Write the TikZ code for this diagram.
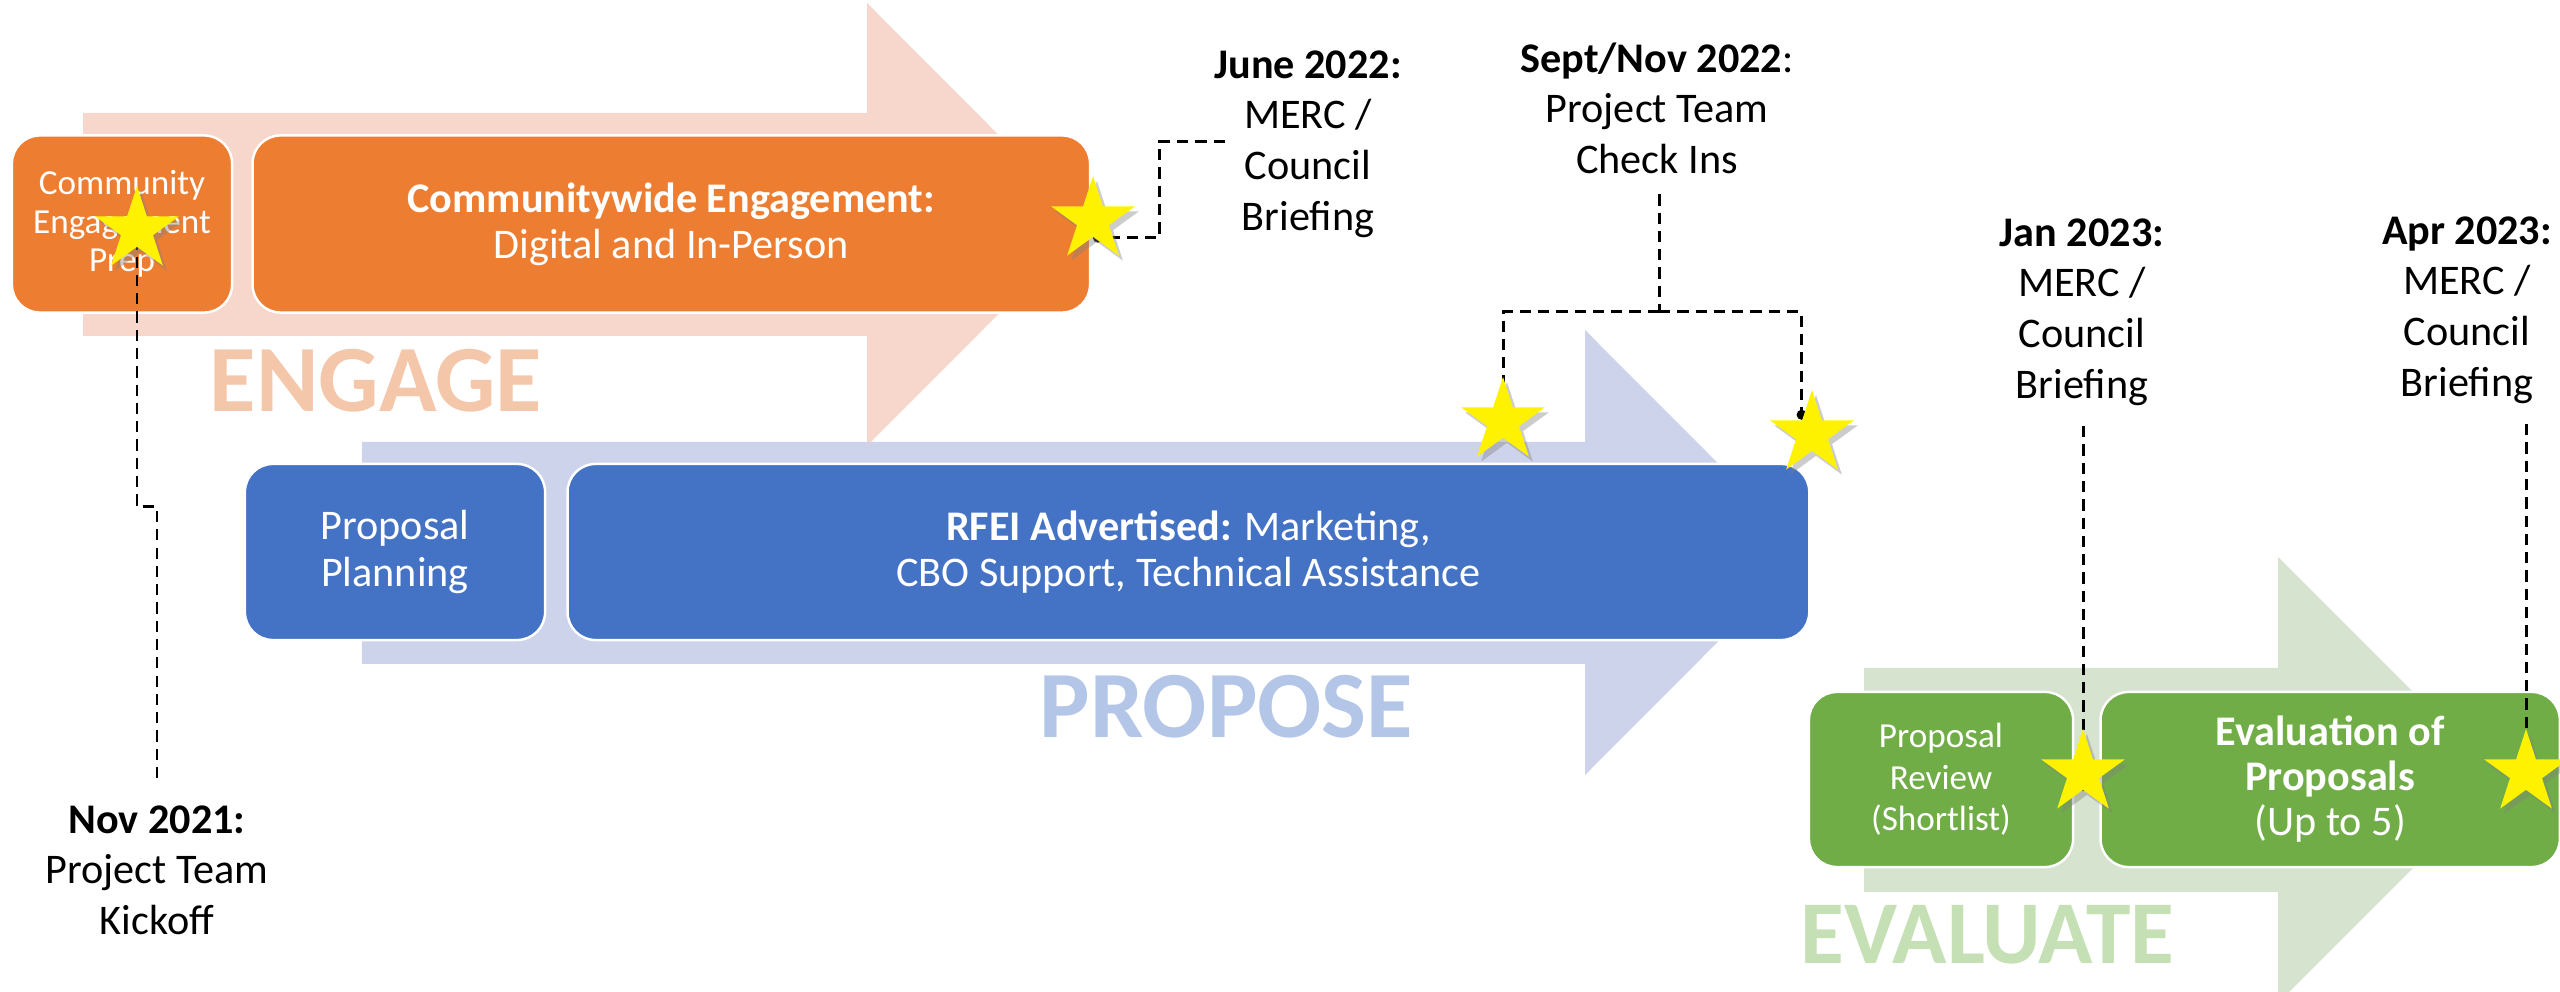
\documentclass[tikz,border=0pt]{standalone}
\usepackage{fontspec}
\setmainfont{Carlito}
\usepackage{tikz}
\usetikzlibrary{arrows,arrows.meta,positioning,shapes.geometric,shadows,backgrounds}

\definecolor{engbox}{HTML}{ED7D31}
\definecolor{engarrow}{HTML}{F7D6CC}
\definecolor{engword}{HTML}{F5C7AA}
\definecolor{probox}{HTML}{4472C4}
\definecolor{proarrow}{HTML}{CDD3EA}
\definecolor{proword}{HTML}{B4C6E7}
\definecolor{evabox}{HTML}{70AD47}
\definecolor{evaarrow}{HTML}{D6E3CF}
\definecolor{evaword}{HTML}{C5E0B4}

\begin{document}
\begin{tikzpicture}[x=0.01cm,y=-0.01cm,>={Circle[length=2.8pt]},
	box/.style={rectangle,rounded corners=0.28cm,draw=white,line width=0.7pt,text=white,align=center,inner sep=0pt,minimum height=1.77cm,font=\fontsize{12}{13.1}\selectfont},
	small box/.style={box,font=\fontsize{10}{11}\selectfont},
	stage/.style={anchor=base west,inner sep=0pt,font=\fontsize{27}{27}\selectfont\bfseries},
	date/.style={align=center,inner sep=0.2cm,font=\fontsize{12}{14.4}\selectfont},
	conn/.style={line width=0.85pt,dash pattern=on 3.2pt off 2pt},
	mstar/.style={star,star points=5,star point ratio=2.618,minimum size=0.88cm,inner sep=0pt,fill=yellow,
		drop shadow={shadow xshift=0.04cm,shadow yshift=-0.05cm,opacity=0.4}}]
	
	\useasboundingbox (0,0) rectangle (2560,992);
	
	\begin{pgfonlayer}{background}
	\fill[engarrow] (83,113) -- (867,113) -- (867,3) -- (1088,224.5) -- (867,446) -- (867,336) -- (83,336) -- cycle;
	\fill[proarrow] (362,442) -- (1585,442) -- (1585,330) -- (1807,552.5) -- (1585,775) -- (1585,664) -- (362,664) -- cycle;
	\fill[evaarrow] (1864,668) -- (2278,668) -- (2278,557) -- (2501,780) -- (2278,1003) -- (2278,892) -- (1864,892) -- cycle;
	
	\node[stage,text=engword] (engw) at (209,412) {ENGAGE};
	\node[stage,text=proword] (prow) at (1039,738) {PROPOSE};
	\node[stage,text=evaword,font=\fontsize{25.5}{25.5}\selectfont\bfseries] (evaw) at (1800,964) {EVALUATE};
	
	\node[small box,fill=engbox,minimum width=2.2cm] (prep) at (122,224) {Community\\Engagement\\Prep};
	\node[box,fill=engbox,minimum width=8.37cm] (cwe) [right=0.18cm of prep] {\textbf{Communitywide Engagement:}\\Digital and In-Person};
	\node[box,fill=probox,minimum width=3cm,minimum height=1.76cm] (plan) at (395,552) {Proposal\\Planning};
	\node[box,fill=probox,minimum width=12.41cm,minimum height=1.76cm] (rfei) [right=0.2cm of plan] {\textbf{RFEI Advertised:} Marketing,\\CBO Support, Technical Assistance};
	\node[small box,fill=evabox,minimum width=2.64cm,minimum height=1.75cm,font=\fontsize{10}{11.8}\selectfont] (review) at (1941,779.5) {Proposal\\Review\\(Shortlist)};
	\node[box,fill=evabox,minimum width=4.59cm,minimum height=1.75cm,font=\fontsize{12}{12.8}\selectfont] (evalp) [right=0.25cm of review] {\textbf{Evaluation of}\\\textbf{Proposals}\\(Up to 5)};
	\end{pgfonlayer}
	
	\node[mstar] (st1) at (137,230) {};
	\node[mstar] (st2) at (1093,220) {};
	\node[mstar] (st3) at (1503,421) {};
	\node[mstar] (st4) at (1812,434) {};
	\node[mstar] (st5) at (2083,773) {};
	\node[mstar] (st6) at (2526,773) {};
	
	\node[date] (nov) at (157,870) {\textbf{Nov 2021:}\\Project Team\\Kickoff};
	\node[date] (june) at (1308,144) {\textbf{June 2022:}\\MERC /\\Council\\Briefing};
	\node[date] (sept) at (1657,108) {\textbf{Sept/Nov 2022}:\\Project Team\\Check Ins};
	\node[date] (jan) at (2082,312) {\textbf{Jan 2023:}\\MERC /\\Council\\Briefing};
	\node[date] (apr) at (2467,310) {\textbf{Apr 2023:}\\MERC /\\Council\\Briefing};
	
	\coordinate (nj) at (137,507);
	\coordinate (jn) at (1225,142);
	\coordinate (jc) at (1159,142);
	\coordinate (sj) at (1659,312);
	
	\begin{pgfonlayer}{background}
	\draw[conn,<-] (st1.center) -- (nj) -| (nov.north);
	\draw[conn,->] (jn) -- (jc) |- (st2.inner point 3);
	\draw[conn] (sept.south -| sj) -- (sj);
	\draw[conn,->] (sj) -| (st3.center);
	\draw[conn,->] (sj) -| (st4.inner point 1);
	\draw[conn,->] (st5 |- jan.south) -- (st5.inner point 3);
	\draw[conn,->] (st6 |- apr.south) -- (st6.center);
	\end{pgfonlayer}
	
\end{tikzpicture}
\end{document}
